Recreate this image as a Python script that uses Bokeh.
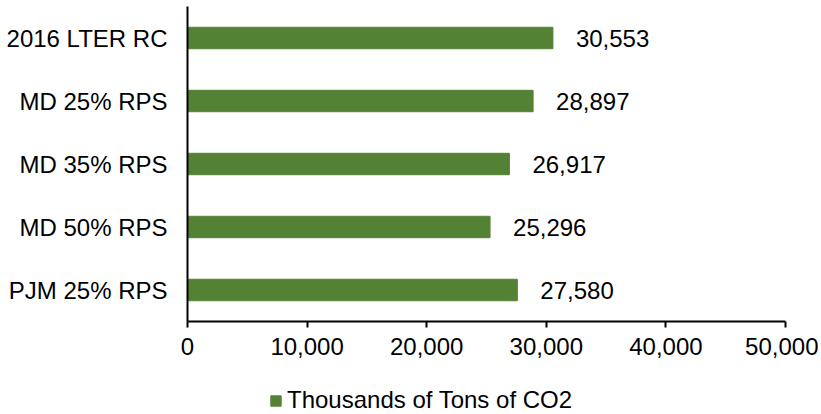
from bokeh.plotting import figure
from bokeh.models import FactorRange, Range1d, FixedTicker, NumeralTickFormatter, Legend, LegendItem, ColumnDataSource
from bokeh.layouts import column
from bokeh.core.properties import value
from bokeh.embed import file_html
from bokeh.resources import INLINE

categories = ["2016 LTER RC", "MD 25% RPS", "MD 35% RPS", "MD 50% RPS", "PJM 25% RPS"]
emissions = [30553, 28897, 26917, 25296, 27580]
series_name = "Thousands of Tons of CO2"
x_ticks = [0, 10000, 20000, 30000, 40000, 50000]

FONT = "Liberation Sans"
FS = "24px"
GREEN = "#548235"

src = ColumnDataSource(dict(
    cat=categories,
    val=emissions,
    lab=[f"{v:,}" for v in emissions],
))

p = figure(
    frame_width=598, frame_height=315,
    y_range=FactorRange(factors=list(reversed(categories)), range_padding=0),
    x_range=Range1d(0, 50000),
    output_backend="svg", toolbar_location=None,
    min_border_left=187, min_border_right=33, min_border_top=6, min_border_bottom=50,
)
p.outline_line_color = None
p.xgrid.visible = False
p.ygrid.visible = False

bars = p.hbar(y="cat", right="val", left=0, height=0.34, source=src,
              fill_color=GREEN, line_color=GREEN)
p.text(x="val", y="cat", text="lab", source=src, x_offset=23,
       text_align="left", text_baseline="middle",
       text_font=value(FONT), text_font_size=FS, text_color="#000000")

xa = p.xaxis[0]
xa.ticker = FixedTicker(ticks=x_ticks)
xa.formatter = NumeralTickFormatter(format="0,0")
xa.axis_line_color = "#000000"
xa.axis_line_width = 2
xa.major_tick_line_color = "#000000"
xa.major_tick_line_width = 2
xa.major_tick_out = 6
xa.major_tick_in = 0
xa.minor_tick_line_color = None
xa.major_label_standoff = 10
xa.major_label_text_font = FONT
xa.major_label_text_font_size = FS
xa.major_label_text_color = "#000000"

ya = p.yaxis[0]
ya.axis_line_color = "#000000"
ya.axis_line_width = 2
ya.major_tick_line_color = None
ya.minor_tick_line_color = None
ya.major_tick_out = 0
ya.major_tick_in = 0
ya.major_label_standoff = 20
ya.major_label_text_font = FONT
ya.major_label_text_font_size = FS
ya.major_label_text_color = "#000000"

# Legend strip below the chart (a separate small figure so that the legend is not clipped).
# Its series renderer uses the same data but is hidden; only its legend swatch shows.
leg_fig = figure(
    width=818, height=43,
    y_range=FactorRange(factors=list(reversed(categories))),
    x_range=Range1d(0, 50000),
    output_backend="svg", toolbar_location=None,
    min_border_left=0, min_border_right=0, min_border_top=0, min_border_bottom=0,
)
leg_fig.axis.visible = False
leg_fig.grid.visible = False
leg_fig.outline_line_color = None
leg_r = leg_fig.hbar(y="cat", right="val", left=0, height=0.34, source=src,
                     fill_color=GREEN, line_color=GREEN)
leg_r.visible = False

legend = Legend(items=[LegendItem(label=series_name, renderers=[leg_r])],
                location=(82, 0), orientation="horizontal",
                glyph_width=13, glyph_height=13, label_standoff=5,
                label_text_font=FONT, label_text_font_size=FS,
                label_text_color="#000000",
                border_line_color=None, background_fill_alpha=0,
                inactive_fill_alpha=0,
                margin=0, padding=2)
leg_fig.add_layout(legend, "center")

layout = column(p, leg_fig, spacing=0)

open("out.html", "w").write(file_html(layout, INLINE))
